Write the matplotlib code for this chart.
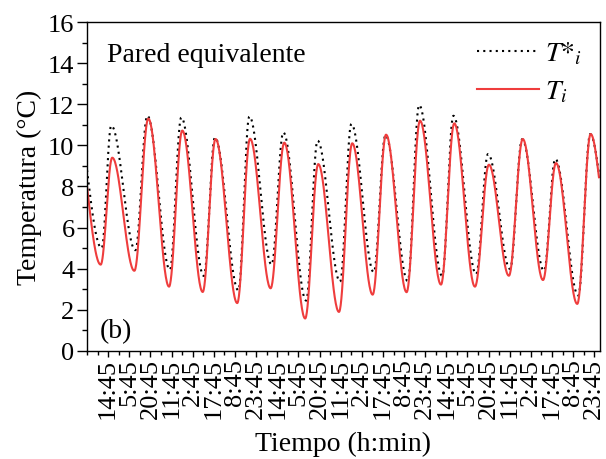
import numpy as np
import matplotlib
matplotlib.use("Agg")
import matplotlib.pyplot as plt
from matplotlib.ticker import MultipleLocator

plt.rcParams["font.family"] = ["Liberation Serif", "DejaVu Serif"]
plt.rcParams["mathtext.fontset"] = "stix"

# Turning points of the indoor temperature series (hours since the start, °C)
ti_hours = [0.0, 9.7, 17.9, 33.6, 43.5, 58.2, 67.6, 82.1, 91.2, 106.6, 115.7,
            130.3, 140.0, 154.8, 164.1, 178.8, 188.2, 202.7, 212.2, 226.8, 236.3,
            251.2, 260.6, 275.3, 285.2, 299.4, 309.2, 323.6, 332.8, 347.9, 357.4,
            363.3]
ti_temp = [8.0, 4.2, 9.4, 3.9, 11.3, 3.13, 10.72, 2.87, 10.31, 2.33, 10.32,
           3.05, 10.13, 1.58, 9.09, 1.9, 10.1, 2.74, 10.52, 2.86, 11.2,
           3.23, 11.07, 3.13, 9.06, 3.66, 10.31, 3.45, 9.14, 2.29, 10.55,
           8.45]

# Turning points of the reference series T*_i
ts_hours = [0.0, 10.4, 17.2, 34.3, 42.8, 58.8, 66.9, 82.9, 90.8, 107.4, 115.2,
            131.0, 139.3, 155.5, 163.6, 179.6, 187.6, 203.5, 211.8, 227.6, 235.7,
            252.0, 260.0, 276.1, 284.6, 300.2, 308.8, 324.3, 332.3, 348.6, 357.1,
            363.3]
ts_temp = [8.8, 5.0, 10.96, 4.9, 11.44, 3.95, 11.36, 3.65, 10.39, 2.95, 11.41,
           4.2, 10.63, 2.45, 10.23, 3.37, 11.04, 3.83, 10.5, 3.4, 11.96,
           3.66, 11.44, 3.74, 9.58, 3.99, 10.3, 3.9, 9.34, 2.7, 10.55,
           8.6]

tick_hours = list(range(15, 361, 15))
tick_labels = ["14:45", "5:45", "20:45", "11:45", "2:45", "17:45", "8:45", "23:45"] * 3


def smooth_line(t, v, n=40):
    """Smooth path through turning points (flat at each extremum)."""
    xs, ys = [], []
    last = len(t) - 2
    for i in range(len(t) - 1):
        s = np.linspace(0.0, 1.0, n)
        if i == 0:
            w = np.sin(0.5 * np.pi * s)
        elif i == last:
            w = 1.0 - np.cos(0.5 * np.pi * s)
        else:
            w = 0.5 * (1.0 - np.cos(np.pi * s))
        xs.append(t[i] + (t[i + 1] - t[i]) * s)
        ys.append(v[i] + (v[i + 1] - v[i]) * w)
    return np.concatenate(xs), np.concatenate(ys)


fig = plt.figure(figsize=(6.06, 4.60), dpi=100)
ax = fig.add_axes([0.1436, 0.2348, 0.8464, 0.7152])

xs, ys = smooth_line(ts_hours, ts_temp)
ax.plot(xs, ys, color="black", lw=1.5, linestyle=(0, (1, 2.0)),
        label=r"$T\text{*}_i$")
xr, yr = smooth_line(ti_hours, ti_temp)
ax.plot(xr, yr, color="#ef3d3d", lw=1.5, label=r"$T_i$")

ax.set_xlim(0, 364)
ax.set_ylim(0, 16)
ax.set_xticks(tick_hours)
ax.set_xticklabels(tick_labels, rotation=90, fontsize=19)
ax.xaxis.set_minor_locator(MultipleLocator(7.5))
ax.yaxis.set_major_locator(MultipleLocator(2))
ax.yaxis.set_minor_locator(MultipleLocator(1))
ax.tick_params(axis="y", which="major", direction="out", length=7, width=1,
               labelsize=19, pad=2)
ax.tick_params(axis="y", which="minor", direction="out", length=3.5, width=1)
ax.tick_params(axis="x", which="major", direction="out", length=4, width=1, pad=1)
ax.tick_params(axis="x", which="minor", direction="out", length=3, width=1)
for sp in ax.spines.values():
    sp.set_linewidth(1.0)

ax.set_ylabel("Temperatura (°C)", fontsize=20, labelpad=4)
ax.set_xlabel("Tiempo (h:min)", fontsize=20, labelpad=9)

ax.text(0.039, 0.882, "Pared equivalente", transform=ax.transAxes,
        fontsize=20, va="baseline", ha="left")
ax.text(0.025, 0.043, "(b)", transform=ax.transAxes,
        fontsize=20, va="baseline", ha="left")

ax.legend(loc="upper right", bbox_to_anchor=(1.0, 1.0), frameon=False,
          fontsize=20, handlelength=2.25, handletextpad=0.2,
          labelspacing=0.45, borderaxespad=0.25)

fig.savefig("out.png", dpi=100)
